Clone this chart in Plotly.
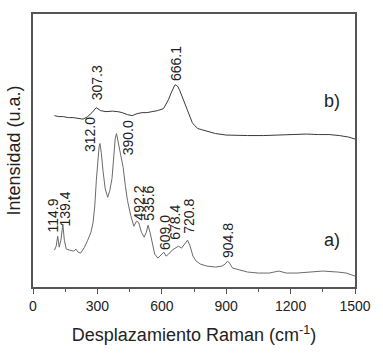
import plotly.graph_objects as go

# Spectrum a) (lower curve): Raman shift (cm-1) and intensity (a.u.)
a_shift = [100, 108, 115, 122, 130, 139, 146, 155, 170, 190, 200, 210, 222, 240, 255, 270, 280, 288,
           295, 302, 308, 312, 318, 326, 336, 348, 358, 368, 376, 383, 389, 395, 402, 412, 420, 430,
           440, 455, 470, 482, 492, 505, 518, 528, 536, 545, 555, 567, 582, 598, 609, 620, 632, 648,
           665, 678, 692, 706, 720, 732, 745, 760, 780, 810, 850, 880, 895, 906, 915, 930, 960, 1000,
           1050, 1100, 1145, 1180, 1230, 1280, 1350, 1420, 1460, 1500]
a_intensity = [37, 41, 51, 40, 47, 63, 47, 38, 37, 36, 38, 35, 34, 40, 47, 55, 65, 82,
               107, 129, 141, 144, 135, 117, 99, 90, 97, 109, 132, 149, 154, 147, 137, 127, 120, 102,
               87, 72, 61, 66, 65, 55, 50, 55, 62, 55, 44, 33, 29, 32, 35, 31, 33, 37,
               39, 41, 39, 43, 47, 41, 31, 26, 23, 21, 20, 21, 23, 26, 24, 19, 17, 15,
               14, 14, 16, 14, 14, 15, 16, 15, 14, 11]

# Spectrum b) (upper curve)
b_shift = [100, 120, 141, 165, 187, 210, 233, 255, 275, 294, 302, 315, 340, 370, 395, 416, 440, 462,
           485, 508, 530, 554, 580, 608, 620, 631, 642, 652, 660, 666, 675, 684, 695, 707, 718, 730,
           742, 753, 768, 784, 814, 850, 900, 950, 1000, 1075, 1150, 1228, 1273, 1330, 1380, 1427,
           1470, 1500]
b_intensity = [172, 171, 171, 170, 170, 169, 168.5, 171, 175, 180, 179, 177, 176, 176.5, 176, 175, 173, 172,
               174, 175, 175, 176, 177, 179, 183, 188, 194, 199, 202.5, 203, 201, 197, 191, 184, 177, 170,
               165, 162, 159, 158, 156.5, 154, 152.5, 152, 152, 152, 152.5, 152.5, 153.5, 153, 153, 152,
               150.5, 148.5]

# Peak labels: text, Raman shift, intensity at label base
peak_text = ["114.9", "139.4", "312.0", "390.0", "492.2", "535.6", "609.0", "678.4", "720.8", "904.8",
             "307.3", "666.1"]
peak_x = [95, 148, 266, 444, 493, 540, 612, 662, 727, 906, 299, 665]
peak_y = [53, 59, 133, 130, 65, 65, 35, 45, 51, 27, 185, 205]

series_text = ["a)", "b)"]
series_x = [1395, 1395]
series_y = [47, 187]

FONT = "Liberation Sans, Arial, sans-serif"

fig = go.Figure()
fig.add_trace(go.Scatter(x=a_shift, y=a_intensity, mode="lines",
                         line=dict(color="#6a6a6a", width=1), showlegend=False))
fig.add_trace(go.Scatter(x=b_shift, y=b_intensity, mode="lines",
                         line=dict(color="#3a3a3a", width=1), showlegend=False))

for t, x, y in zip(peak_text, peak_x, peak_y):
    fig.add_annotation(x=x, y=y, xref="x", yref="y", text=t, showarrow=False,
                       textangle=-90, xanchor="center", yanchor="bottom",
                       font=dict(family=FONT, size=14, color="#222"))

for t, x, y in zip(series_text, series_x, series_y):
    fig.add_annotation(x=x, y=y, xref="x", yref="y", text=t, showarrow=False,
                       xanchor="center", yanchor="middle",
                       font=dict(family=FONT, size=18, color="#222"))

fig.update_layout(
    width=383, height=354,
    margin=dict(l=33, r=24, t=13, b=67),
    paper_bgcolor="white", plot_bgcolor="white",
    font=dict(family=FONT, size=14, color="#222"),
    xaxis=dict(range=[0, 1500], tickvals=[0, 300, 600, 900, 1200, 1500],
               ticks="outside", ticklen=5, tickwidth=1, tickcolor="#555",
               minor=dict(dtick=150, ticks="outside", ticklen=3, tickcolor="#555", showgrid=False),
               showgrid=False, zeroline=False, showline=True, mirror=True,
               linecolor="#555", linewidth=1.5,
               tickfont=dict(family=FONT, size=14, color="#222"),
               title=dict(text="Desplazamiento Raman (cm<sup>-1</sup>)",
                          font=dict(family=FONT, size=18, color="#222"), standoff=16)),
    yaxis=dict(range=[0, 274], showticklabels=False, ticks="",
               showgrid=False, zeroline=False, showline=True, mirror=True,
               linecolor="#555", linewidth=1.5,
               title=dict(text="Intensidad (u.a.)",
                          font=dict(family=FONT, size=18, color="#222"), standoff=6)),
)

fig.write_html("out.html", config={"displayModeBar": False},
               post_script="document.body.style.margin='0';")
